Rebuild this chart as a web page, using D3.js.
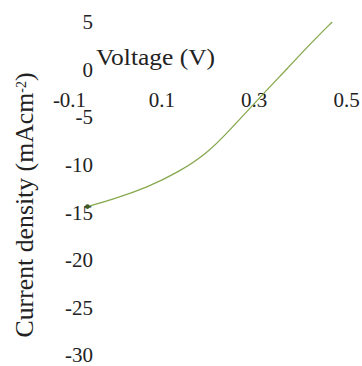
<!DOCTYPE html>
<html>
<head>
<meta charset="utf-8">
<script src="https://cdn.jsdelivr.net/npm/d3@7"></script>
<style>
  body { margin: 0; background: #fff; }
  text { font-family: 'Liberation Serif', 'Times New Roman', Times, 'DejaVu Serif', serif; }
</style>
</head>
<body>
<div id="chart"></div>
<script>
// J-V curve
const voltage = [-0.06, -0.005, 0.069, 0.14, 0.199, 0.242, 0.329, 0.373, 0.416, 0.47];
const currentDensity = [-14.4, -13.65, -12.4, -10.72, -8.8, -6.7, -2.1, 0.1, 2.38, 5.0];
const xTicks = [-0.1, 0.1, 0.3, 0.5];
const yTicks = [5, 0, -5, -10, -15, -20, -25, -30];

const width = 362;
const height = 366;
const FONT = "'Liberation Serif', 'Times New Roman', Times, 'DejaVu Serif', serif";

const svg = d3.select('#chart').append('svg').attr('width', width).attr('height', height);

const x = d3.scaleLinear().domain([-0.1, 0.5]).range([69, 346]);
const y = d3.scaleLinear().domain([-30, 5]).range([355, 22]);

// y axis: labels only, no line
const yAxis = svg.append('g')
  .attr('transform', 'translate(93,0)')
  .call(d3.axisLeft(y).tickValues(yTicks).tickSize(0).tickPadding(0).tickFormat((d) => String(d)))
  .attr('font-family', FONT);
yAxis.select('.domain').remove();
yAxis.selectAll('text').style('font-size', '21px').style('font-family', FONT).attr('fill', '#222');

// x axis: labels only, sitting between 0 and -5
const xAxis = svg.append('g')
  .attr('transform', 'translate(0,92)')
  .call(d3.axisBottom(x).tickValues(xTicks).tickSize(0).tickPadding(0).tickFormat((d) => d.toFixed(1)))
  .attr('font-family', FONT);
xAxis.select('.domain').remove();
xAxis.selectAll('text').style('font-size', '21px').style('font-family', FONT).attr('fill', '#222');

svg.append('text')
  .attr('x', 96)
  .attr('y', 65)
  .style('font-family', FONT)
  .style('font-size', '24px')
  .attr('fill', '#222')
  .attr('textLength', 119)
  .attr('lengthAdjust', 'spacingAndGlyphs')
  .text('Voltage (V)');

const yTitle = svg.append('text')
  .attr('transform', 'translate(33,205) rotate(-90)')
  .attr('text-anchor', 'middle')
  .attr('fill', '#222')
  .attr('textLength', 265)
  .attr('lengthAdjust', 'spacingAndGlyphs')
  .style('font-family', FONT)
  .style('font-size', '26px');
yTitle.append('tspan').text('Current density (mAcm');
yTitle.append('tspan').attr('baseline-shift', 'super').style('font-size', '14px').text('-2');
yTitle.append('tspan').text(')');

const pts = voltage.map((v, i) => [v, currentDensity[i]]);
const line = d3.line()
  .x((d) => x(d[0]))
  .y((d) => y(d[1]))
  .curve(d3.curveBasis);

svg.append('path')
  .datum(pts)
  .attr('d', line)
  .attr('fill', 'none')
  .attr('stroke', '#86a84e')
  .attr('stroke-width', 1.3);

// darker blob at curve start
svg.append('circle')
  .attr('cx', x(pts[0][0]))
  .attr('cy', y(pts[0][1]))
  .attr('r', 2.3)
  .attr('fill', '#3f5a22');
</script>
</body>
</html>
